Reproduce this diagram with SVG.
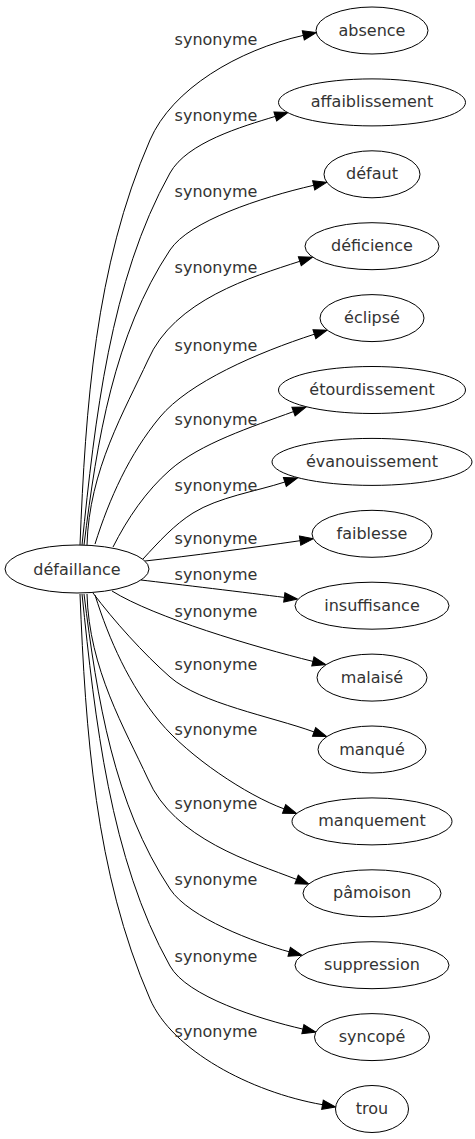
<svg xmlns="http://www.w3.org/2000/svg" width="475" height="1139" viewBox="0 0 475 1139">
<style>
.nd ellipse{fill:#fff;stroke:#000;stroke-width:1}
text{font-family:"DejaVu Sans","Liberation Sans",sans-serif;font-size:16px;fill:#333;text-anchor:middle}
.ed path{fill:none;stroke:#000;stroke-width:1;marker-end:url(#ah)}
</style>
<defs>
<marker id="ah" markerUnits="userSpaceOnUse" markerWidth="16" markerHeight="12" refX="0" refY="0" orient="auto" style="overflow:visible">
<path d="M0,-4.67 L13.3,0 L0,4.67 Z" fill="#000" stroke="#000" stroke-width="1"/>
</marker>
</defs>
<rect width="475" height="1139" fill="#fff"/>
<g id="connectors" class="ed">
<path d="M80,545 C85.5,408 95,266 150,140 C172,89 238,50 303.3,35.4"/>
<text x="216" y="45">synonyme</text>
<path d="M82,545 C95,420 110,280 170,173 C187,142.5 241.8,126.6 275.3,116.4"/>
<text x="216" y="120.7">synonyme</text>
<path d="M84,545 C97,440 113.9,334.7 170,250 C189.3,221 260.1,197.7 313.7,185.3"/>
<text x="216" y="196.7">synonyme</text>
<path d="M87,545 C89,470 125,410 148,360 C174,300 252.2,276.8 299.8,261.3"/>
<text x="216" y="273.3">synonyme</text>
<path d="M95,544 C109.4,498.4 129.3,454 160,417 C188.8,382.4 257.3,352.7 314.4,334.2"/>
<text x="216" y="350.5">synonyme</text>
<path d="M113,547 C127.4,518.5 146,491.1 170,470 C200,443.6 251.2,427 293.5,411.6"/>
<text x="216" y="425">synonyme</text>
<path d="M143,559 C159.2,541.4 174.3,524.7 193,513 C218.5,497.1 256.3,491.3 284.85,482"/>
<text x="216" y="490.5">synonyme</text>
<path d="M145,561 C190,556 250,548 300.1,540.7"/>
<text x="216" y="544">synonyme</text>
<path d="M141,580 C175,584 250,593 284.3,597.4"/>
<text x="216" y="580">synonyme</text>
<path d="M112,591 C154.5,617.5 254.7,646.9 312.9,661.4"/>
<text x="216" y="616.7">synonyme</text>
<path d="M93,593 C114,621 143.75,653.9 170,677 C200,703.4 271.8,716.6 314.1,731.95"/>
<text x="216" y="670">synonyme</text>
<path d="M95,595 C109.4,640.6 129.3,685 160,722 C188.8,756.6 246.5,795.2 284.1,808.9"/>
<text x="216" y="735">synonyme</text>
<path d="M87,594 C89,669 125,729 148,779 C174,839 252.2,862.2 296.6,879.4"/>
<text x="216" y="809">synonyme</text>
<path d="M84,594 C97,699 113.9,804.3 170,889 C189.3,918 255.4,942.7 289.2,951.8"/>
<text x="216" y="885">synonyme</text>
<path d="M82,594 C95,719 110,859 170,966 C187,996.5 259.1,1019 302.9,1029.1"/>
<text x="216" y="961.7">synonyme</text>
<path d="M80,594 C85.5,731 95,873 150,999 C172,1050 250,1092 322.5,1104.7"/>
<text x="216" y="1037">synonyme</text>
</g>
<g id="node_defaillance" class="nd"><ellipse cx="77" cy="569" rx="72" ry="24"/><text x="77" y="574.5">défaillance</text></g>
<g id="node_absence" class="nd"><ellipse cx="372" cy="30.5" rx="56" ry="23.5"/><text x="372" y="35.5">absence</text></g>
<g id="node_affaiblissement" class="nd"><ellipse cx="372" cy="102.4" rx="93.5" ry="23.5"/><text x="372" y="107.4">affaiblissement</text></g>
<g id="node_defaut" class="nd"><ellipse cx="372" cy="174.3" rx="48" ry="23.5"/><text x="372" y="179.3">défaut</text></g>
<g id="node_deficience" class="nd"><ellipse cx="372" cy="246.2" rx="67" ry="23.5"/><text x="372" y="251.2">déficience</text></g>
<g id="node_eclipse" class="nd"><ellipse cx="372" cy="318.1" rx="52" ry="23.5"/><text x="372" y="323.1">éclipsé</text></g>
<g id="node_etourdissement" class="nd"><ellipse cx="372" cy="390" rx="93.5" ry="23.5"/><text x="372" y="395">étourdissement</text></g>
<g id="node_evanouissement" class="nd"><ellipse cx="372" cy="461.9" rx="100" ry="23.5"/><text x="372" y="466.9">évanouissement</text></g>
<g id="node_faiblesse" class="nd"><ellipse cx="372" cy="533.8" rx="60" ry="23.5"/><text x="372" y="538.8">faiblesse</text></g>
<g id="node_insuffisance" class="nd"><ellipse cx="372" cy="605.7" rx="77" ry="23.5"/><text x="372" y="610.7">insuffisance</text></g>
<g id="node_malaise" class="nd"><ellipse cx="372" cy="677.6" rx="55" ry="23.5"/><text x="372" y="682.6">malaisé</text></g>
<g id="node_manque" class="nd"><ellipse cx="372" cy="749.5" rx="54" ry="23.5"/><text x="372" y="754.5">manqué</text></g>
<g id="node_manquement" class="nd"><ellipse cx="372" cy="821.4" rx="80" ry="23.5"/><text x="372" y="826.4">manquement</text></g>
<g id="node_pamoison" class="nd"><ellipse cx="372" cy="893.3" rx="69" ry="23.5"/><text x="372" y="898.3">pâmoison</text></g>
<g id="node_suppression" class="nd"><ellipse cx="372" cy="965.2" rx="77" ry="23.5"/><text x="372" y="970.2">suppression</text></g>
<g id="node_syncope" class="nd"><ellipse cx="372" cy="1037.1" rx="57.5" ry="23.5"/><text x="372" y="1042.1">syncopé</text></g>
<g id="node_trou" class="nd"><ellipse cx="372" cy="1109" rx="36.5" ry="23.5"/><text x="372" y="1114">trou</text></g>
</svg>
